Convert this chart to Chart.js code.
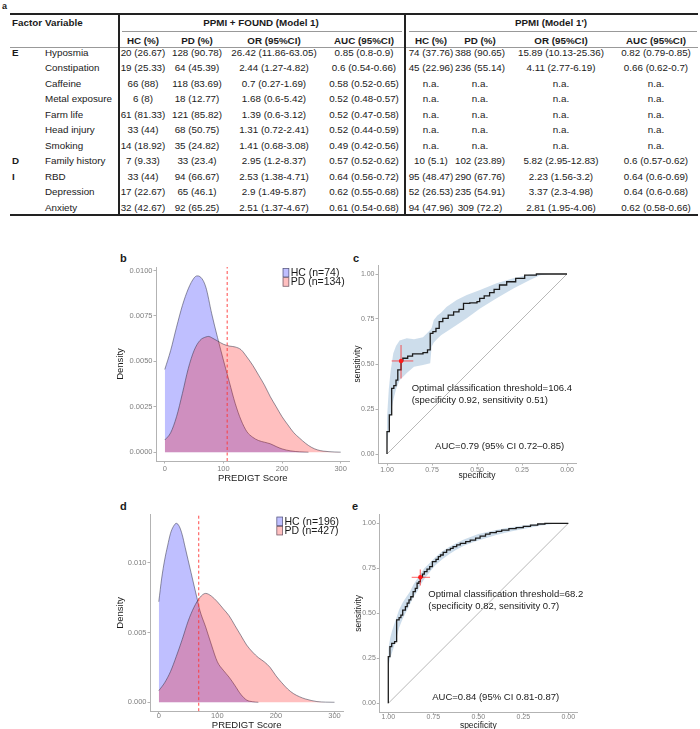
<!DOCTYPE html>
<html><head><meta charset="utf-8">
<script src="https://cdn.jsdelivr.net/npm/chart.js@4.4.1/dist/chart.umd.min.js"></script>
<style>
html,body{margin:0;padding:0;background:#fff;}
#page{position:relative;width:700px;height:729px;overflow:hidden;font-family:"Liberation Sans",Arial,sans-serif;color:#1a1a1a;}
.t{position:absolute;white-space:nowrap;font-size:9.8px;line-height:12px;height:12px;}
.b{font-weight:bold;}
.rule{position:absolute;}
canvas{position:absolute;}
.lab{position:absolute;font-weight:bold;font-size:11px;line-height:12px;}
</style></head><body><div id="page"></div>
<script>
// ---------------- table data ----------------
const groupTitles = ['PPMI + FOUND (Model 1)', "PPMI (Model 1')"];
const colHeads = ['HC (%)', 'PD (%)', 'OR (95%CI)', 'AUC (95%CI)'];
const factors = ['E','','','','','','','D','I','',''];
const variables = ['Hyposmia','Constipation','Caffeine','Metal exposure','Farm life','Head injury','Smoking','Family history','RBD','Depression','Anxiety'];
const hc1 = ['20 (26.67)','19 (25.33)','66 (88)','6 (8)','61 (81.33)','33 (44)','14 (18.92)','7 (9.33)','33 (44)','17 (22.67)','32 (42.67)'];
const pd1 = ['128 (90.78)','64 (45.39)','118 (83.69)','18 (12.77)','121 (85.82)','68 (50.75)','35 (24.82)','33 (23.4)','94 (66.67)','65 (46.1)','92 (65.25)'];
const or1 = ['26.42 (11.86-63.05)','2.44 (1.27-4.82)','0.7 (0.27-1.69)','1.68 (0.6-5.42)','1.39 (0.6-3.12)','1.31 (0.72-2.41)','1.41 (0.68-3.08)','2.95 (1.2-8.37)','2.53 (1.38-4.71)','2.9 (1.49-5.87)','2.51 (1.37-4.67)'];
const auc1 = ['0.85 (0.8-0.9)','0.6 (0.54-0.66)','0.58 (0.52-0.65)','0.52 (0.48-0.57)','0.52 (0.47-0.58)','0.52 (0.44-0.59)','0.49 (0.42-0.56)','0.57 (0.52-0.62)','0.64 (0.56-0.72)','0.62 (0.55-0.68)','0.61 (0.54-0.68)'];
const hc2 = ['74 (37.76)','45 (22.96)','n.a.','n.a.','n.a.','n.a.','n.a.','10 (5.1)','95 (48.47)','52 (26.53)','94 (47.96)'];
const pd2 = ['388 (90.65)','236 (55.14)','n.a.','n.a.','n.a.','n.a.','n.a.','102 (23.89)','290 (67.76)','235 (54.91)','309 (72.2)'];
const or2 = ['15.89 (10.13-25.36)','4.11 (2.77-6.19)','n.a.','n.a.','n.a.','n.a.','n.a.','5.82 (2.95-12.83)','2.23 (1.56-3.2)','3.37 (2.3-4.98)','2.81 (1.95-4.06)'];
const auc2 = ['0.82 (0.79-0.85)','0.66 (0.62-0.7)','n.a.','n.a.','n.a.','n.a.','n.a.','0.6 (0.57-0.62)','0.64 (0.6-0.69)','0.64 (0.6-0.68)','0.62 (0.58-0.66)'];

// ---------------- density data (PREDIGT score) ----------------
const groups = ['HC', 'PD'];
const nB = [74, 134];
const nD = [196, 427];
const thrB = 106.4;
const thrD = 68.2;
const xTicksDens = [0, 100, 200, 300];
const yTicksB = [0, 0.0025, 0.005, 0.0075, 0.01];
const yTicksD = [0, 0.005, 0.01];

const bHcX = [0,10,20,30,40,50,55,60,70,80,90,100,110,120,130,140,150,160,170,180,190,200,215,230,245];
const bHcY = [0.00455,0.0056,0.00688,0.00807,0.00899,0.00959,0.0097,0.00966,0.00908,0.00762,0.0063,0.00506,0.00387,0.00269,0.00177,0.00113,0.00082,0.00064,0.00055,0.00046,0.00031,0.00018,0.00007,0.00002,0];
const bPdX = [0,10,20,30,40,50,60,70,75,80,90,100,110,120,130,140,150,160,170,180,190,200,210,220,230,240,250,260,270,280,290,300];
const bPdY = [0.00067,0.00107,0.00195,0.00323,0.0046,0.0056,0.00615,0.00634,0.00637,0.0063,0.00612,0.00594,0.00584,0.00579,0.00564,0.00524,0.00478,0.00424,0.00369,0.00305,0.0025,0.00195,0.0015,0.00107,0.00077,0.00049,0.00027,0.00013,0.00006,0.00003,0.00001,0];

const dHcX = [0,5,10,15,20,25,30,35,40,45,50,55,60,65,70,80,90,100,110,120,130,140,150,160,170];
const dHcY = [0.0072,0.0089,0.0102,0.0112,0.0121,0.0126,0.01282,0.0126,0.012,0.0111,0.0102,0.0093,0.0084,0.0075,0.0066,0.0054,0.0041,0.0029,0.0023,0.0018,0.0012,0.00057,0.00016,0.00004,0];
const dPdX = [0,10,20,30,40,50,60,70,80,90,100,110,120,130,140,150,160,170,180,190,200,210,220,230,240,250,260,270,285,300];
const dPdY = [0.00083,0.0014,0.0022,0.0033,0.0045,0.0058,0.0068,0.0075,0.0078,0.0076,0.0072,0.0067,0.0062,0.0055,0.0048,0.0041,0.0036,0.0032,0.0029,0.0025,0.0019,0.0014,0.00095,0.00062,0.0004,0.00024,0.00013,0.00005,0.00001,0];

// ---------------- ROC data ----------------
const rocTicks = [0, 0.25, 0.5, 0.75, 1];
const cSpec = [1,1,0.987,0.987,0.974,0.974,0.962,0.962,0.95,0.95,0.94,0.94,0.922,0.922,0.912,0.912,0.885,0.885,0.858,0.858,0.80,0.80,0.775,0.775,0.76,0.76,0.745,0.745,0.728,0.728,0.71,0.71,0.69,0.69,0.66,0.66,0.63,0.63,0.60,0.60,0.575,0.575,0.54,0.54,0.50,0.50,0.485,0.485,0.46,0.46,0.43,0.43,0.405,0.405,0.375,0.375,0.335,0.335,0.285,0.285,0.235,0.235,0.17,0.17,0];
const cSens = [0,0.124,0.124,0.217,0.217,0.365,0.365,0.38,0.38,0.41,0.41,0.467,0.467,0.517,0.517,0.532,0.532,0.544,0.544,0.556,0.556,0.563,0.563,0.578,0.578,0.67,0.67,0.68,0.68,0.698,0.698,0.735,0.735,0.754,0.754,0.772,0.772,0.79,0.79,0.804,0.804,0.837,0.837,0.84,0.84,0.846,0.846,0.865,0.865,0.878,0.878,0.896,0.896,0.915,0.915,0.939,0.939,0.957,0.957,0.976,0.976,0.994,0.994,1,1];
const cCiSpec = [1.00,0.99,0.98,0.965,0.95,0.93,0.89,0.85,0.80,0.76,0.752,0.74,0.72,0.70,0.668,0.613,0.557,0.483,0.391,0.298,0.206,0.15,0.10,0.0];
const cCiLo = [0.05,0.14,0.22,0.30,0.36,0.41,0.45,0.485,0.494,0.504,0.596,0.62,0.64,0.66,0.68,0.717,0.754,0.809,0.865,0.92,0.967,0.993,1.0,1.0];
const cCiHi = [0.20,0.36,0.46,0.56,0.60,0.63,0.643,0.637,0.648,0.689,0.70,0.744,0.77,0.785,0.818,0.856,0.883,0.911,0.948,0.976,0.997,1.0,1.0,1.0];
const cOpt = {spec: 0.922, sens: 0.517, specLo: 0.854, specHi: 0.974, sensLo: 0.42, sensHi: 0.606};
const cNotes = ['Optimal classification threshold=106.4', '(specificity 0.92, sensitivity 0.51)', 'AUC=0.79 (95% CI 0.72\u20130.85)'];

const eSpec = [1,1,0.991,0.991,0.981,0.981,0.965,0.965,0.957,0.957,0.952,0.952,0.940,0.940,0.930,0.930,0.920,0.920,0.905,0.905,0.895,0.895,0.885,0.885,0.875,0.875,0.862,0.862,0.850,0.850,0.840,0.840,0.830,0.830,0.822,0.822,0.810,0.810,0.800,0.800,0.785,0.785,0.770,0.770,0.755,0.755,0.735,0.735,0.722,0.722,0.710,0.710,0.695,0.695,0.676,0.676,0.655,0.655,0.640,0.640,0.620,0.620,0.600,0.600,0.570,0.570,0.545,0.545,0.515,0.515,0.490,0.490,0.460,0.460,0.435,0.435,0.400,0.400,0.370,0.370,0.330,0.330,0.290,0.290,0.250,0.250,0.210,0.210,0.170,0.170,0.130,0.130,0];
const eSens = [0,0.259,0.259,0.315,0.315,0.333,0.333,0.343,0.343,0.407,0.407,0.463,0.463,0.476,0.476,0.490,0.490,0.518,0.518,0.537,0.537,0.556,0.556,0.575,0.575,0.592,0.592,0.620,0.620,0.639,0.639,0.667,0.667,0.676,0.676,0.700,0.700,0.718,0.718,0.731,0.731,0.745,0.745,0.759,0.759,0.787,0.787,0.800,0.800,0.815,0.815,0.824,0.824,0.838,0.838,0.852,0.852,0.861,0.861,0.870,0.870,0.880,0.880,0.889,0.889,0.898,0.898,0.907,0.907,0.918,0.918,0.929,0.929,0.940,0.940,0.948,0.948,0.955,0.955,0.962,0.962,0.970,0.970,0.976,0.976,0.983,0.983,0.990,0.990,0.996,0.996,1,1];
const eCiSpec = [1.00,0.99,0.98,0.96,0.94,0.92,0.90,0.88,0.86,0.84,0.82,0.80,0.77,0.74,0.70,0.66,0.62,0.58,0.54,0.50,0.45,0.40,0.35,0.30,0.25,0.20,0.15,0.10,0.05,0.00];
const eCiLo = [0.20,0.25,0.28,0.34,0.42,0.47,0.51,0.55,0.59,0.62,0.66,0.69,0.73,0.765,0.80,0.83,0.855,0.875,0.89,0.905,0.92,0.935,0.948,0.958,0.968,0.978,0.988,0.995,1.0,1.0];
const eCiHi = [0.30,0.36,0.40,0.46,0.52,0.56,0.59,0.62,0.66,0.69,0.72,0.75,0.78,0.81,0.845,0.87,0.89,0.91,0.925,0.94,0.952,0.963,0.973,0.981,0.988,0.994,0.999,1.0,1.0,1.0];
const eOpt = {spec: 0.822, sens: 0.700, specLo: 0.768, specHi: 0.870, sensLo: 0.655, sensHi: 0.744};
const eNotes = ['Optimal classification threshold=68.2', '(specificity 0.82, sensitivity 0.7)', 'AUC=0.84 (95% CI 0.81-0.87)'];

// ---------------- table drawing ----------------
const page = document.getElementById('page');
function txt(s, x, y, align, cls) {
  const d = document.createElement('div');
  d.className = 't' + (cls ? ' ' + cls : '');
  d.textContent = s;
  if (align === 'center') { d.style.left = (x - 100) + 'px'; d.style.width = '200px'; d.style.textAlign = 'center'; }
  else d.style.left = x + 'px';
  d.style.top = (y - 6) + 'px';
  page.appendChild(d);
}
function rule(x, y, w, h, c) {
  const d = document.createElement('div');
  d.className = 'rule';
  Object.assign(d.style, {left: x + 'px', top: y + 'px', width: w + 'px', height: h + 'px', background: c});
  page.appendChild(d);
}
function label(s, x, y, size) {
  const d = document.createElement('div');
  d.className = 'lab'; d.textContent = s;
  d.style.left = x + 'px'; d.style.top = y + 'px';
  if (size) d.style.fontSize = size + 'px';
  page.appendChild(d);
}
const COLS = [143, 197, 274, 364, 431, 480, 561, 656];
const ROW0 = 52.5, ROWH = 15.5, HEAD1 = 22.7, HEAD2 = 41;
label('a', 2, 0, 9);
rule(10, 12.5, 688, 2, '#222');
rule(122, 31, 280, 1, '#999');
rule(409, 31, 288, 1, '#999');
rule(10, 47, 688, 1, '#999');
rule(10, 214, 688, 2, '#222');
rule(117.5, 13, 2, 202, '#222');
rule(404, 13, 2, 202, '#222');
txt('Factor', 12, HEAD1, 'left', 'b');
txt('Variable', 45, HEAD1, 'left', 'b');
txt(groupTitles[0], 261, HEAD1, 'center', 'b');
txt(groupTitles[1], 551, HEAD1, 'center', 'b');
for (let i = 0; i < 8; i++) txt(colHeads[i % 4], COLS[i], HEAD2, 'center', 'b');
const cols = [hc1, pd1, or1, auc1, hc2, pd2, or2, auc2];
variables.forEach((v, r) => {
  const y = ROW0 + r * ROWH;
  if (factors[r]) txt(factors[r], 12, y, 'left', 'b');
  txt(v, 45, y, 'left');
  cols.forEach((col, c) => txt(col[r], COLS[c], y, 'center'));
});
label('b', 120, 252); label('c', 353, 252); label('d', 120, 500); label('e', 352, 500);

// ---------------- charts ----------------
const FONT = '"Liberation Sans", Arial, sans-serif';
Chart.defaults.font.family = FONT;
Chart.defaults.color = '#1a1a1a';

function makeCanvas(x, y, w, h) {
  const c = document.createElement('canvas');
  c.width = w; c.height = h;
  c.style.left = x + 'px'; c.style.top = y + 'px';
  c.style.width = w + 'px'; c.style.height = h + 'px';
  page.appendChild(c);
  return c;
}
function axis(o) {
  return {
    type: 'linear', min: o.min, max: o.max, reverse: !!o.reverse,
    afterBuildTicks: s => { s.ticks = o.ticks.map(v => ({value: v})); },
    afterFit: s => { if (o.width != null) s.width = o.width; if (o.height != null) s.height = o.height; },
    ticks: {callback: v => Number(v).toFixed(o.dec), font: {size: o.tickSize}, color: '#808080', padding: o.tickPad, autoSkip: false, maxRotation: 0, minRotation: 0},
    grid: {display: true, drawOnChartArea: false, drawTicks: true, tickLength: 2.5, color: '#b3b3b3', lineWidth: 1},
    border: {display: true, color: '#b3b3b3', width: 1},
    title: {display: true, text: o.title, font: {size: o.titleSize}, color: '#1a1a1a', padding: o.titlePad}
  };
}
const overlay = {
  id: 'overlay',
  afterDatasetsDraw(chart, args, opts) {
    const ctx = chart.ctx, ca = chart.chartArea;
    ctx.save();
    if (opts.legend) {
      const L = opts.legend;
      L.items.forEach((it, i) => {
        const x = ca.right - L.dx, y = ca.top + L.dy + i * L.h;
        ctx.fillStyle = '#fff'; ctx.fillRect(x, y, L.w, L.h);
        ctx.fillStyle = it.fill; ctx.fillRect(x, y, L.w, L.h);
        ctx.strokeStyle = 'rgba(50,50,70,0.75)'; ctx.lineWidth = 0.7; ctx.strokeRect(x + 0.35, y + 0.35, L.w - 0.7, L.h - 0.7);
        ctx.fillStyle = '#1a1a1a'; ctx.font = L.size + 'px ' + FONT;
        ctx.textAlign = 'left'; ctx.textBaseline = 'middle';
        ctx.fillText(it.text, x + L.w + L.gap, y + L.h / 2 + 0.5);
      });
    }
    if (opts.notes) {
      ctx.fillStyle = '#1a1a1a'; ctx.textAlign = 'left'; ctx.textBaseline = 'middle';
      opts.notes.forEach(n => {
        ctx.font = n.size + 'px ' + FONT;
        ctx.fillText(n.text, chart.scales.x.getPixelForValue(n.x), chart.scales.y.getPixelForValue(n.y));
      });
    }
    ctx.restore();
  }
};
const xy = (xs, ys) => xs.map((x, i) => ({x, y: ys[i]}));
const HC_FILL = 'rgba(0,0,255,0.25)', PD_FILL = 'rgba(255,0,0,0.25)';

function densityChart(box, lay, hcX, hcY, pdX, pdY, thr, ns, yMin, yMax, yTicks, dec) {
  const cv = makeCanvas(box[0], box[1], box[2], box[3]);
  const dset = (xs, ys, fill, order) => ({data: xy(xs, ys), fill: 'origin', backgroundColor: fill, borderColor: 'rgba(50,50,70,0.75)', borderWidth: 0.7, pointRadius: 0, cubicInterpolationMode: 'monotone', order});
  return new Chart(cv, {
    type: 'line',
    data: {datasets: [
      dset(hcX, hcY, HC_FILL, 3),
      dset(pdX, pdY, PD_FILL, 2),
      {data: [{x: thr, y: yMin}, {x: thr, y: yMax}], borderColor: '#ff3333', borderDash: [3, 2.5], borderWidth: 0.9, pointRadius: 0, fill: false, order: 1}
    ]},
    options: {
      responsive: false, animation: false, devicePixelRatio: 1, events: [],
      layout: {padding: lay.pad},
      plugins: {legend: {display: false}, tooltip: {enabled: false},
        overlay: {legend: {dx: 66.8, dy: lay.legDy, w: 6.5, h: 9.3, gap: 1.5, size: 10.5,
          items: [{fill: HC_FILL, text: groups[0] + ' (n=' + ns[0] + ')'}, {fill: PD_FILL, text: groups[1] + ' (n=' + ns[1] + ')'}]}}},
      scales: {
        x: axis({min: -15, max: 315, ticks: xTicksDens, dec: 0, tickSize: 7.5, tickPad: lay.xTickPad, title: 'PREDIGT Score', titleSize: 9.5, titlePad: {top: 0, bottom: lay.xTitlePad}, height: lay.xH}),
        y: axis({min: yMin, max: yMax, ticks: yTicks, dec: dec, tickSize: 7.5, tickPad: 1, title: 'Density', titleSize: 9.5, titlePad: {top: lay.yTitlePad, bottom: 0}, width: lay.yW})
      }
    },
    plugins: [overlay]
  });
}

function rocChart(box, lay, spec, sens, ciSpec, ciLo, ciHi, opt, notes, notePos) {
  const cv = makeCanvas(box[0], box[1], box[2], box[3]);
  const line = (data, color, w, order, extra) => Object.assign({data, borderColor: color, borderWidth: w, pointRadius: 0, fill: false, order}, extra || {});
  return new Chart(cv, {
    type: 'line',
    data: {datasets: [
      line(xy(ciSpec, ciHi), 'rgba(0,0,0,0)', 1, 6, {fill: '+1', backgroundColor: 'rgba(70,130,180,0.27)'}),
      line(xy(ciSpec, ciLo), 'rgba(0,0,0,0)', 1, 6),
      line([{x: 1, y: 0}, {x: 0, y: 1}], '#9a9a9a', 0.7, 5),
      line(xy(spec, sens), '#1c1c1c', 1.3, 4),
      line([{x: opt.specHi, y: opt.sens}, {x: opt.specLo, y: opt.sens}], 'rgba(255,30,30,0.55)', 1.3, 3),
      line([{x: opt.spec, y: opt.sensLo}, {x: opt.spec, y: opt.sensHi}], 'rgba(255,30,30,0.55)', 1.3, 3),
      line([{x: opt.spec, y: opt.sens}], 'rgba(0,0,0,0)', 0, 2, {showLine: false, pointRadius: 2.2, pointBackgroundColor: '#ff1a1a', pointBorderWidth: 0})
    ]},
    options: {
      responsive: false, animation: false, devicePixelRatio: 1, events: [],
      layout: {padding: lay.pad},
      plugins: {legend: {display: false}, tooltip: {enabled: false},
        overlay: {notes: notes.map((t, i) => ({text: t, x: notePos[i][0], y: notePos[i][1], size: 9.5}))}},
      scales: {
        x: axis({min: -0.05, max: 1.05, reverse: true, ticks: rocTicks, dec: 2, tickSize: 7, tickPad: lay.xTickPad, title: 'specificity', titleSize: 8.5, titlePad: {top: 0, bottom: lay.xTitlePad}, height: lay.xH}),
        y: axis({min: -0.05, max: 1.05, ticks: rocTicks, dec: 2, tickSize: 7, tickPad: 1, title: 'sensitivity', titleSize: 8.5, titlePad: {top: lay.yTitlePad, bottom: 0}, width: lay.yW})
      }
    },
    plugins: [overlay]
  });
}

densityChart([100, 255, 260, 235], {pad: {left: 0, top: 12, right: 10.5, bottom: 0}, yW: 56, xH: 29, xTickPad: 1, xTitlePad: 6.3, yTitlePad: 14.3, legDy: 1},
  bHcX, bHcY, bPdX, bPdY, thrB, nB, -0.000485, 0.01019, yTicksB, 4);
densityChart([100, 500, 260, 229], {pad: {left: 0, top: 14.4, right: 16.7, bottom: 0}, yW: 50, xH: 17.8, xTickPad: -2, xTitlePad: -2, yTitlePad: 14.3, legDy: 2.3},
  dHcX, dHcY, dPdX, dPdY, thrD, nD, -0.00064, 0.01346, yTicksD, 3);
rocChart([345, 255, 245, 235], {pad: {left: 0, top: 10, right: 14, bottom: 0}, yW: 33, xH: 27, xTickPad: 0.5, xTitlePad: 9.2, yTitlePad: 7.9},
  cSpec, cSens, cCiSpec, cCiLo, cCiHi, cOpt, cNotes, [[0.863, 0.365], [0.863, 0.30], [0.733, 0.041]]);
rocChart([345, 500, 245, 229], {pad: {left: 0, top: 14.3, right: 12.7, bottom: 0}, yW: 34.3, xH: 16.7, xTickPad: -2.2, xTitlePad: -1.8, yTitlePad: 8.2},
  eSpec, eSens, eCiSpec, eCiLo, eCiHi, eOpt, eNotes, [[0.778, 0.606], [0.778, 0.537], [0.756, 0.031]]);
</script></body></html>
